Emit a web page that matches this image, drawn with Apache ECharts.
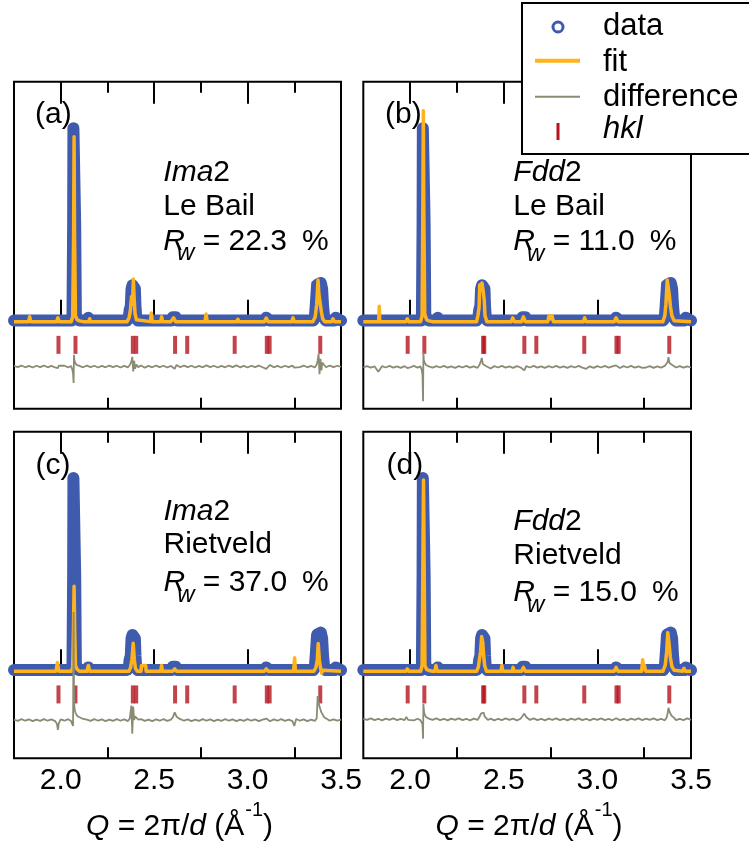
<!DOCTYPE html>
<html><head><meta charset="utf-8">
<script src="https://cdn.jsdelivr.net/npm/echarts@6/dist/echarts.min.js"></script>
<style>html,body{margin:0;padding:0;background:#fff}#c{width:749px;height:849px}</style>
</head><body><div id="c"></div>
<script>
// ================= DATA =================
const xTickMajor = [2.0, 2.5, 3.0, 3.5];
const xTickMinor = [2.25, 2.75, 3.25];
const panelLetters = ['(a)', '(b)', '(c)', '(d)'];
const groupItalic = ['Ima', 'Fdd', 'Ima', 'Fdd'];
const groupSuffix = ['2', '2', '2', '2'];
const methods = ['Le Bail', 'Le Bail', 'Rietveld', 'Rietveld'];
const rwValues = ['22.3', '11.0', '37.0', '15.0'];
const legendNames = ['data', 'fit', 'difference', 'hkl'];

// observed pattern (same measurement in all four panels): [Q, intensity]
const observed = [[1.75,0.6],[1.83,0.6],[1.835,1.2],[1.84,0.6],[1.975,0.6],[1.985,1.5],[1.995,0.6],
 [2.058,0.6],[2.063,3],[2.0665,50],[2.068,100],[2.075,100],[2.0775,50],[2.081,4],[2.088,1.2],[2.10,0.6],
 [2.142,0.6],[2.148,2],[2.155,0.6],[2.355,0.6],[2.364,2],[2.369,6],[2.375,8],[2.379,17],[2.384,18.8],
 [2.392,18.8],[2.397,17],[2.40,8],[2.404,2],[2.412,0.6],[2.44,0.6],[2.448,1.2],[2.455,0.6],[2.525,0.6],
 [2.53,1.2],[2.535,0.6],[2.592,0.6],[2.60,2.3],[2.615,2.3],[2.624,0.6],[3.09,0.6],[3.10,2],[3.11,2],
 [3.118,0.6],[3.235,0.6],[3.243,1.5],[3.25,0.6],[3.352,0.6],[3.36,2],[3.366,10],[3.372,19],[3.38,20],
 [3.392,20],[3.399,17],[3.404,8],[3.41,2],[3.418,0.6],[3.465,0.6],[3.472,2],[3.482,2],[3.49,1],[3.50,0.6]];

// fits: [Q, intensity]
const fitA = [[1.75,0],[1.828,0],[1.834,2.5],[1.84,0],[1.978,0],[1.985,2],[1.992,0],[2.056,0],[2.064,2.5],
 [2.069,45],[2.0715,95.5],[2.074,45],[2.079,3],[2.088,1],[2.10,0.4],[2.12,0],[2.15,0],[2.155,1.5],[2.16,0],
 [2.355,0],[2.366,2],[2.373,6],[2.379,13],[2.384,9],[2.389,22],[2.393,12],[2.398,4],[2.405,1],[2.415,0],
 [2.48,0],[2.485,4.5],[2.49,0],[2.535,0],[2.54,2.5],[2.545,0],[2.59,0],[2.604,2],[2.615,0],[2.772,0],
 [2.778,4],[2.784,0],[2.942,0],[2.948,1.2],[2.954,0],[3.09,0],[3.10,1.8],[3.11,0],[3.236,0],[3.243,2],
 [3.25,0],[3.35,0],[3.362,2.5],[3.37,9],[3.377,21.5],[3.382,14],[3.388,10],[3.395,5],[3.402,1.5],
 [3.412,0],[3.45,0],[3.457,1.5],[3.464,0],[3.50,0]];
const fitB = [[1.75,0],[1.832,0],[1.835,8],[1.838,0],[1.978,0],[1.985,1.5],[1.992,0],[2.056,0],[2.064,3],
 [2.068,60],[2.0705,109],[2.073,60],[2.078,4],[2.088,1],[2.10,0.4],[2.12,0],[2.14,0],[2.146,1],[2.152,0],
 [2.355,0],[2.362,3],[2.368,7],[2.372,19],[2.378,17],[2.384,20],[2.39,16],[2.396,11],[2.40,3],[2.41,0],
 [2.54,0],[2.548,2],[2.556,0],[2.595,0],[2.605,2.5],[2.615,0],[2.735,0],[2.742,3],[2.75,1.5],[2.758,3],
 [2.765,0],[2.925,0],[2.932,2],[2.94,0],[3.09,0],[3.10,2],[3.11,0],[3.237,0],[3.243,1],[3.25,0],[3.35,0],
 [3.36,3],[3.366,9],[3.373,21.5],[3.378,18],[3.384,14],[3.39,8],[3.398,3],[3.41,0.5],[3.42,0],[3.50,0]];
const fitC = [[1.75,0],[1.975,0],[1.982,4.5],[1.99,0],[2.056,0],[2.064,2],[2.068,20],[2.0715,44],[2.075,20],
 [2.079,3],[2.088,1],[2.10,0],[2.14,0],[2.148,3],[2.155,0],[2.365,0],[2.374,2],[2.381,6],[2.388,14.5],
 [2.394,6],[2.40,1.5],[2.41,0],[2.43,0],[2.432,3],[2.455,3],[2.457,0],[2.535,0],[2.54,3],[2.545,0],
 [2.60,0],[2.61,1.2],[2.62,0],[3.09,0],[3.10,1.2],[3.11,0],[3.246,0],[3.252,7],[3.256,0],[3.262,-1],
 [3.268,0],[3.355,0],[3.366,2],[3.373,6],[3.378,14.4],[3.384,6],[3.39,2],[3.396,-1],[3.402,0.5],
 [3.41,0],[3.50,0]];
const fitD = [[1.75,0],[1.978,0],[1.985,1.2],[1.992,0],[2.056,0],[2.064,3],[2.068,55],[2.0715,99],[2.075,55],
 [2.079,3],[2.088,1],[2.10,0.4],[2.12,0],[2.132,0],[2.138,3],[2.144,0],[2.355,0],[2.364,2],[2.37,6],
 [2.376,10],[2.382,18],[2.388,15],[2.393,8],[2.398,3],[2.408,0],[2.485,0],[2.49,3],[2.495,0],[2.545,0],
 [2.55,2],[2.555,0],[2.595,0],[2.605,2],[2.615,0],[2.942,0],[2.948,1],[2.954,0],[3.09,0],[3.10,2],
 [3.11,0],[3.236,0],[3.242,6],[3.247,1],[3.252,3],[3.258,0],[3.35,0],[3.362,3],[3.37,10],[3.376,20],
 [3.382,15],[3.39,7],[3.398,2.5],[3.41,0.5],[3.42,0],[3.455,0],[3.462,1.5],[3.47,0],[3.50,0]];

// difference (data - fit), Q grid shared by the four panels
const diffQ = [
 1.75,1.77,1.79,1.81,1.83,1.85,1.87,1.89,1.91,1.93,
 1.95,1.97,1.98,1.985,1.99,2.00,2.02,2.04,2.055,2.062,
 2.066,2.069,2.071,2.073,2.076,2.08,2.085,2.09,2.10,2.12,
 2.14,2.16,2.18,2.20,2.22,2.24,2.26,2.28,2.30,2.32,
 2.34,2.36,2.37,2.378,2.383,2.388,2.393,2.398,2.405,2.415,
 2.43,2.45,2.47,2.49,2.51,2.53,2.55,2.57,2.59,2.60,
 2.61,2.62,2.64,2.66,2.68,2.70,2.72,2.74,2.76,2.78,
 2.80,2.82,2.84,2.86,2.88,2.90,2.92,2.94,2.96,2.98,
 3.00,3.02,3.04,3.06,3.08,3.10,3.12,3.14,3.16,3.18,
 3.20,3.22,3.24,3.25,3.26,3.28,3.30,3.32,3.34,3.36,
 3.37,3.375,3.38,3.385,3.39,3.395,3.40,3.41,3.42,3.44,
 3.46,3.48,3.50];
const diffA = [
 0.4,-0.3,0.5,-0.4,0.3,-0.5,0.4,-0.3,0.5,-0.4,
 0.3,-0.5,0.2,-0.8,0.5,-0.3,0.4,-0.5,0.3,-1.5,
 -3.5,-8.5,6,3.5,2.2,1.5,0.8,1.0,0.3,-0.4,
 0.5,-0.3,0.4,-0.5,0.3,-0.4,0.5,-0.3,0.4,-0.5,
 0.3,-0.4,0.8,2.5,5,-2.5,3,-1.2,1,-0.3,
 0.5,-0.6,0.3,-0.4,0.5,-0.3,0.4,-0.5,0.3,1.0,
 -1.2,0.8,-0.4,0.5,-0.3,0.4,-0.5,0.3,-0.4,0.6,
 -0.3,0.4,-0.5,0.3,-0.4,0.5,-0.3,0.6,-0.4,0.3,
 -0.5,0.4,-0.3,0.5,-0.4,-1.2,0.8,-0.4,0.3,-0.5,
 0.4,-0.3,0.5,-0.6,0.4,-0.3,0.5,-0.4,0.3,-0.5,
 1,3,6.5,-4,4,-2,2,0.8,-0.4,0.5,
 -0.3,0.4,-0.2];
const diffB = [
 -0.3,0.4,-0.4,0.3,-2.5,0.4,-0.3,0.5,-0.4,0.3,
 -0.5,0.4,-0.3,-0.6,0.4,-0.3,0.5,-0.4,0.3,-1.5,
 -4,-17.8,7.5,4,2.5,1.5,1.0,0.6,0.3,-0.4,
 0.4,-0.3,0.5,-0.4,0.3,-0.5,0.4,-0.3,0.5,-0.4,
 0.3,-0.5,1,3,4.6,1.5,2.5,0.8,0.5,-0.3,
 -0.8,0.4,-0.3,0.5,-0.4,0.3,-0.5,0.4,-0.3,0.5,
 -1.8,0.4,-0.3,0.5,-0.4,0.3,-0.5,0.4,-0.3,0.5,
 -0.4,0.3,-0.5,0.4,-0.3,0.5,-0.4,-1.0,0.3,-0.5,
 0.4,-0.3,0.5,-0.4,0.3,0.8,-0.6,0.4,-0.3,0.5,
 -0.4,0.3,-0.5,0.5,-0.3,0.4,-0.5,0.3,-0.4,0.5,
 1,2.5,5,2,3,1.2,1,0.5,-0.3,0.4,
 -0.4,0.3,-0.3];
const diffC = [
 0.3,-0.4,0.5,-0.3,0.4,-0.5,0.3,-0.4,0.5,-0.3,
 0.4,-0.5,-2,-5,-1.5,0.4,-0.3,0.5,-0.4,0.3,
 -3,56,15,7,5,3.5,2.5,2,1.2,0.6,
 0.3,-0.4,0.5,-0.3,0.4,-0.5,0.3,-0.4,0.5,-0.3,
 0.4,-0.5,1,7.5,-7,7,0,2,1.5,0.3,
 0.5,-0.4,0.3,-0.5,0.4,-0.3,0.5,-0.4,0.3,1.5,
 4,1.8,0.5,-0.3,0.4,-0.5,0.3,-0.4,0.5,-0.3,
 0.4,-0.5,0.3,-0.4,0.5,-0.3,0.4,-0.5,0.3,-0.4,
 0.5,-0.3,0.4,-0.5,0.3,0.8,-0.6,0.4,-0.3,0.5,
 -0.4,0.3,-0.5,-3,0.6,-0.3,0.4,-0.5,0.3,-0.4,
 1,12.5,9,7,5.5,4,3,1.5,0.6,-0.3,
 0.4,-0.3,0.3];
const diffD = [
 0.4,-0.3,0.5,-0.4,0.3,-0.5,0.4,-0.3,0.5,-0.4,
 0.3,-0.4,1.2,0.5,-0.3,0.4,-0.5,0.3,-0.4,-1.0,
 -2.5,-10,8,5,3,2,1.2,0.8,0.4,-0.3,
 0.5,-0.4,0.3,-0.5,0.4,-0.3,0.5,-0.4,0.3,-0.5,
 0.4,-0.3,1.2,3,4,2.5,3.5,1.5,0.8,-0.3,
 0.4,-0.5,0.3,-0.4,0.5,-0.3,0.4,-0.5,0.3,1.2,
 3,1.2,-0.3,0.5,-0.4,0.3,-0.5,0.4,-0.3,0.5,
 -0.4,0.3,-0.5,0.4,-0.3,0.5,-0.4,0.3,-0.5,0.4,
 -0.3,0.5,-0.4,0.3,-0.5,0.6,-0.4,0.3,-0.5,0.4,
 -0.3,0.5,-0.4,-1.2,0.4,-0.3,0.5,-0.4,0.3,-0.5,
 1,3,6,4,3,2,1.5,0.8,-0.4,0.3,
 -0.4,0.5,-0.3];

// reflection positions (Q)
const hklIma2 = [1.988, 2.079, 2.386, 2.404, 2.612, 2.677, 2.931, 3.103, 3.118, 3.389];
const hklFdd2 = [1.987, 2.076, 2.390, 2.396, 2.610, 2.674, 2.930, 3.102, 3.114, 3.384];

// ================= LAYOUT / STYLE =================
const FONT = '"Liberation Sans", Arial, Helvetica, sans-serif';
const C_DATA = '#3f5bad', C_FIT = '#ffb21c', C_DIFF = '#8b8b74', C_HKL = '#b3141f';
const DIFF_OFFSET = [-23.2, -23.4, -25.3, -24.9];
const HKL_LEVEL = -12;
const Y_MIN = -45, Y_MAX = 124;

const fits = [fitA, fitB, fitC, fitD];
const diffs = [diffA, diffB, diffC, diffD];
const hkls = [hklIma2, hklFdd2, hklIma2, hklFdd2];

const gridRects = [
  {left: 14, top: 81.7, width: 327, height: 327},
  {left: 363.3, top: 81.7, width: 327.7, height: 327},
  {left: 14, top: 431.7, width: 327, height: 326.5},
  {left: 363.3, top: 431.7, width: 327.7, height: 326.5}
];

const mctx = document.createElement('canvas').getContext('2d');
function measure(t, size, italic) {
  mctx.font = (italic ? 'italic ' : '') + size + 'px ' + FONT;
  return mctx.measureText(t).width;
}
// pieces: [text, size, italic, dy, dx]
function run(x, baseline, pieces, align) {
  const widths = pieces.map(p => measure(p[0], p[1], p[2]));
  let total = 0;
  pieces.forEach((p, i) => { total += widths[i] + (p[4] || 0); });
  let cx = align === 'center' ? x - total / 2 : x;
  const els = [];
  pieces.forEach((p, i) => {
    cx += (p[4] || 0);
    els.push({
      type: 'text', z: 120, silent: true,
      x: cx, y: baseline + (p[3] || 0) - 0.3465 * p[1],
      style: {
        text: p[0], fontSize: p[1], fontStyle: p[2] ? 'italic' : 'normal',
        fontFamily: FONT, fill: '#000',
        align: 'left', verticalAlign: 'middle'
      }
    });
    cx += widths[i];
  });
  return els;
}

const grid = [], xAxis = [], yAxis = [], series = [], graphic = [];

gridRects.forEach((r, g) => {
  grid.push(Object.assign({show: true, borderColor: '#000', borderWidth: 2, backgroundColor: 'transparent'}, r));
  const bottomRow = g >= 2;
  const mk = (pos, vals, len, labels) => ({
    gridIndex: g, type: 'value', min: 1.75, max: 3.5, position: pos,
    axisLine: {show: false}, splitLine: {show: false},
    axisTick: {show: true, inside: true, length: len, customValues: vals, lineStyle: {color: '#000', width: 2}},
    axisLabel: labels ? {show: true, customValues: vals, formatter: v => v.toFixed(1), fontSize: 30,
      fontFamily: FONT, color: '#000', margin: 8} : {show: false}
  });
  xAxis.push(mk('bottom', xTickMajor, 22, bottomRow));
  xAxis.push(mk('bottom', xTickMinor, 11, false));
  xAxis.push(mk('top', xTickMajor, 22, false));
  xAxis.push(mk('top', xTickMinor, 11, false));
  yAxis.push({gridIndex: g, type: 'value', min: Y_MIN, max: Y_MAX, show: false});

  const xi = g * 4;
  series.push({name: 'data', type: 'line', xAxisIndex: xi, yAxisIndex: g, data: observed,
    showSymbol: false, symbol: 'none', clip: false, z: 2,
    lineStyle: {color: C_DATA, width: 12, cap: 'round', join: 'round'}});
  series.push({name: 'fit', type: 'line', xAxisIndex: xi, yAxisIndex: g, data: fits[g],
    showSymbol: false, symbol: 'none', z: 4,
    lineStyle: {color: C_FIT, width: 3.5, join: 'round'}});
  series.push({name: 'difference', type: 'line', xAxisIndex: xi, yAxisIndex: g,
    data: diffQ.map((q, i) => [q, diffs[g][i] + DIFF_OFFSET[g]]),
    showSymbol: false, symbol: 'none', z: 5,
    lineStyle: {color: C_DIFF, width: 1.8}});
  series.push({name: 'hkl', type: 'scatter', xAxisIndex: xi, yAxisIndex: g,
    data: hkls[g].map(q => [q, HKL_LEVEL]),
    symbol: 'rect', symbolSize: [4, 18], z: 3, itemStyle: {color: C_HKL}});
});

// panel letters
const letterPos = [[35, 125.4], [385, 125.4], [35.5, 476.5], [386.5, 476.5]];
letterPos.forEach((p, g) => graphic.push(...run(p[0], p[1], [[panelLetters[g], 30, false]])));

// annotations
const annPos = [[163.3, 183.3, 216.7, 251.7], [513.3, 183.3, 216.7, 252.3],
                [163.5, 521.7, 555, 593.5], [513.3, 531.7, 565.7, 603.3]];
annPos.forEach((p, g) => {
  graphic.push(...run(p[0], p[1], [[groupItalic[g], 30, true], [groupSuffix[g], 30, false]]));
  graphic.push(...run(p[0], p[2], [[methods[g], 30, false]]));
  graphic.push(...run(p[0], p[3], [['R', 30, true], ['w', 24, true, 10, -8],
    [' = ' + rwValues[g], 30, false], ['%', 30, false, 0, 15]]));
});

// x axis titles
[[179.5, 836.7], [529, 836.7]].forEach(p => {
  graphic.push(...run(p[0], p[1], [['Q', 30, true], [' = 2\u03c0/', 30, false], ['d', 30, true],
    [' (\u00c5', 30, false], ['-1', 20, false, -19.7, 1], [')', 30, false]], 'center'));
});

// legend box
graphic.push({type: 'rect', z: 110, silent: true, shape: {x: 522, y: 3, width: 240, height: 151},
  style: {fill: '#fff', stroke: '#000', lineWidth: 2}});
graphic.push({type: 'circle', z: 115, silent: true, shape: {cx: 558, cy: 27, r: 5},
  style: {fill: '#fff', stroke: C_DATA, lineWidth: 3}});
graphic.push({type: 'line', z: 115, silent: true, shape: {x1: 535, y1: 60.7, x2: 580, y2: 60.7},
  style: {stroke: C_FIT, lineWidth: 4}});
graphic.push({type: 'line', z: 115, silent: true, shape: {x1: 535, y1: 96.7, x2: 580, y2: 96.7},
  style: {stroke: C_DIFF, lineWidth: 2}});
graphic.push({type: 'line', z: 115, silent: true, shape: {x1: 558, y1: 123, x2: 558, y2: 140},
  style: {stroke: C_HKL, lineWidth: 3}});
const legBase = [36.7, 72.7, 108.3, 140];
legendNames.forEach((n, i) => graphic.push(...run(603, legBase[i], [[n, 31, n === 'hkl']])));

const chart = echarts.init(document.getElementById('c'), null, {renderer: 'canvas'});
chart.setOption({animation: false, backgroundColor: '#fff', grid, xAxis, yAxis, series, graphic});
</script></body></html>
